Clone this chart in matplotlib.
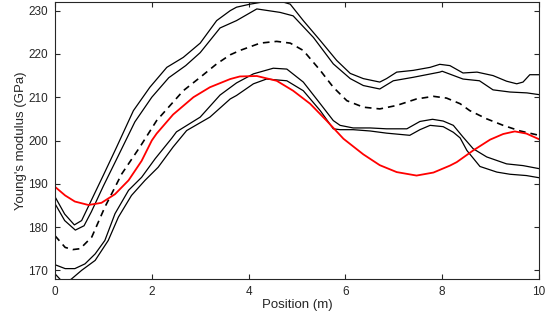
import matplotlib
matplotlib.use('Agg')
import matplotlib.pyplot as plt

upper_outer_x = [0, 0.2, 0.4, 0.55, 0.7, 1.0, 1.27, 1.62, 1.96, 2.31, 2.65, 3.0, 3.34, 3.62, 3.75,
                 4.03, 4.4, 4.65, 4.86, 5.13, 5.48, 5.82, 6.1, 6.37, 6.71, 6.85, 7.06, 7.4, 7.75,
                 7.95, 8.16, 8.43, 8.72, 9.05, 9.33, 9.54, 9.67, 9.81, 10]
upper_outer_y = [187, 183, 180.5, 181.5, 185, 192, 198.4, 206.9, 212.3, 216.9, 219.2, 222.5, 227.7,
                 230, 230.8, 231.5, 232.2, 232.2, 231.5, 227.7, 223.1, 218.5, 215.5, 214.3, 213.5,
                 214.3, 215.8, 216.2, 216.9, 217.6, 217.3, 215.6, 215.8, 215, 213.7, 213.1, 213.5,
                 215.2, 215.2]

upper_inner_x = [0, 0.2, 0.42, 0.6, 0.75, 1.0, 1.3, 1.65, 2.0, 2.35, 2.7, 3.0, 3.41, 3.75, 4.17,
                 4.65, 4.92, 5.34, 5.75, 6.1, 6.37, 6.71, 6.99, 7.4, 7.95, 8.0, 8.43, 8.77, 9.05,
                 9.4, 9.75, 10]
upper_inner_y = [185.4, 181.5, 179.3, 180.3, 183.5, 189.5, 196.3, 204.3, 210, 214.5, 217.3, 220.3,
                 226, 227.7, 230.4, 229.6, 228.8, 223.8, 217.7, 214.3, 212.7, 211.9, 213.8, 214.6,
                 215.8, 216, 214.2, 213.8, 211.7, 211.2, 211, 210.6]

mean_x = [0, 0.21, 0.37, 0.52, 0.76, 1.03, 1.38, 1.76, 2.1, 2.65, 3.0, 3.34, 3.62, 3.82, 4.24, 4.58,
          4.86, 5.13, 5.48, 5.75, 6.03, 6.37, 6.71, 7.06, 7.47, 7.82, 8.09, 8.37, 8.57, 8.92, 9.26,
          9.61, 10]
mean_y = [178, 175.3, 174.8, 175, 177.7, 184.6, 192.3, 198.6, 204.6, 211.5, 214.6, 217.7, 219.8,
          220.8, 222.5, 222.9, 222.5, 220.8, 216.2, 212.3, 209.2, 207.7, 207.3, 208.1, 209.6, 210.2,
          209.8, 208.5, 206.9, 205, 203.5, 202.2, 201.2]

lower_inner_x = [0, 0.21, 0.41, 0.62, 0.83, 1.03, 1.24, 1.52, 1.79, 2.07, 2.41, 2.51, 3.0, 3.41,
                 3.75, 4.1, 4.51, 4.79, 5.13, 5.48, 5.75, 5.89, 6.16, 6.51, 6.85, 7.27, 7.54, 7.8,
                 8.02, 8.23, 8.43, 8.64, 8.92, 9.33, 9.67, 10]
lower_inner_y = [171.3, 170.4, 170.4, 171.5, 173.8, 176.9, 183.1, 188.5, 191.5, 195.8, 200.5, 202,
                 205.4, 210.5, 213.3, 215.4, 216.7, 216.5, 213.5, 208.5, 204.6, 203.5, 202.9, 202.9,
                 202.7, 202.7, 204.4, 204.9, 204.5, 203.5, 200.8, 198.1, 196.2, 194.6, 194.2, 193.5]

lower_outer_x = [0, 0.1, 0.2, 0.34, 0.55, 0.83, 1.1, 1.31, 1.58, 1.86, 2.13, 2.44, 2.72, 3.2, 3.41,
                 3.62, 3.75, 4.1, 4.37, 4.79, 5.13, 5.48, 5.75, 5.89, 6.16, 6.51, 6.85, 7.33, 7.54,
                 7.75, 8.02, 8.23, 8.37, 8.51, 8.78, 9.13, 9.4, 9.74, 10]
lower_outer_y = [169.2, 168, 167, 168, 170, 172.3, 176.9, 182.3, 187.3, 190.8, 193.8, 198.5, 202.3,
                 205.4, 207.5, 209.6, 210.4, 213.1, 214.2, 213.8, 211.5, 206.9, 202.7, 202.5, 202.5,
                 202.2, 201.7, 201.2, 202.5, 203.5, 203.2, 201.9, 200.6, 197.7, 194, 192.7, 192.2,
                 191.9, 191.4]

red_x = [0, 0.21, 0.41, 0.69, 0.96, 1.24, 1.52, 1.79, 2.0, 2.1, 2.44, 2.86, 3.2, 3.62, 3.82, 4.17,
         4.58, 4.92, 5.27, 5.61, 5.96, 6.37, 6.71, 7.06, 7.47, 7.82, 8.16, 8.3, 8.64, 8.99, 9.26,
         9.5, 9.74, 10]
red_y = [189.3, 187.3, 185.9, 185.1, 185.6, 187.6, 190.8, 195.3, 200, 201.6, 206.0, 210, 212.3,
         214.2, 214.8, 214.9, 213.8, 211.5, 208.5, 204.6, 200.4, 196.8, 194.3, 192.7, 191.9, 192.6,
         194.2, 195.0, 197.7, 200.2, 201.5, 202.1, 201.6, 200.3]

x_ticks = [0, 2, 4, 6, 8, 10]
y_ticks = [170, 180, 190, 200, 210, 220, 230]

axis_color = '#262626'


def prepare_plot():
    '''
    MATLAB-like axes: box on, ticks inside
    '''
    plt.rcParams['font.family'] = ['Liberation Sans', 'DejaVu Sans']
    fig = plt.figure(figsize=(5.47, 3.2), dpi=100)
    ax = fig.add_axes([55 / 547, 1 - 279 / 320, 484 / 547, 277 / 320])
    for s in ax.spines.values():
        s.set_color(axis_color)
        s.set_linewidth(0.8)
    ax.tick_params(direction='in', length=3.5, width=0.8, colors=axis_color,
                   labelsize=8.5, top=True, right=True, pad=5)
    ax.set_xlim(0, 10)
    ax.set_ylim(168, 232)
    ax.set_xticks(x_ticks)
    ax.set_yticks(y_ticks)
    ax.set_xlabel('Position (m)', fontsize=9.5, color=axis_color, labelpad=1)
    ax.set_ylabel("Young's modulus (GPa)", fontsize=9.5, color=axis_color, labelpad=1)
    return fig, ax


if __name__ == '__main__':
    fig, ax = prepare_plot()
    for xs, ys in [(upper_outer_x, upper_outer_y), (upper_inner_x, upper_inner_y),
                   (lower_inner_x, lower_inner_y), (lower_outer_x, lower_outer_y)]:
        ax.plot(xs, ys, color='k', linewidth=0.9)
    ax.plot(mean_x, mean_y, color='k', linewidth=1.2, linestyle=(0, (4, 3)))
    ax.plot(red_x, red_y, color='r', linewidth=1.3)
    fig.savefig('out.png', dpi=100)
